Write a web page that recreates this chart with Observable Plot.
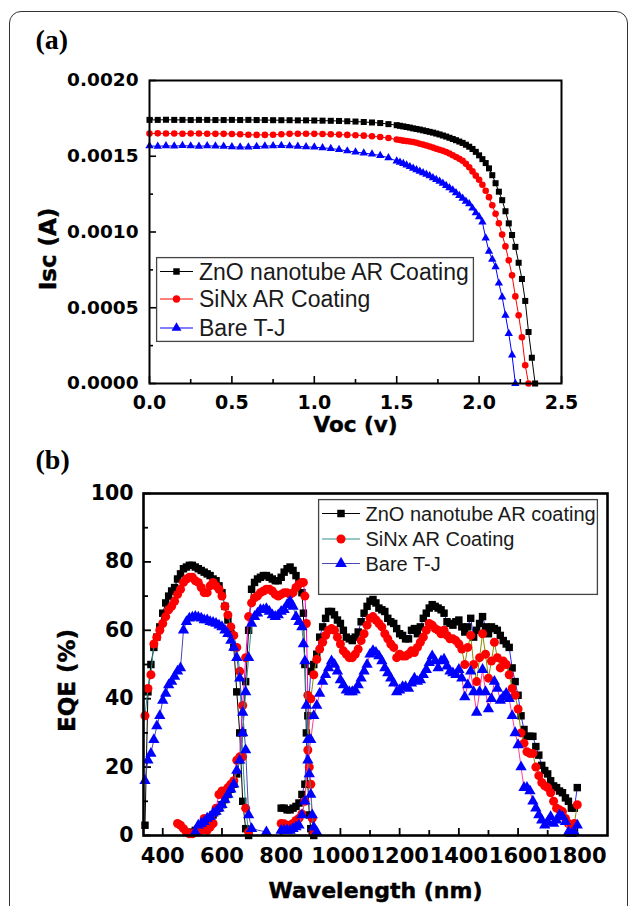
<!DOCTYPE html>
<html><head><meta charset="utf-8">
<script src="https://cdn.jsdelivr.net/npm/d3@7"></script>
<script src="https://cdn.jsdelivr.net/npm/@observablehq/plot@0.6"></script>
<style>
html,body{margin:0;padding:0;background:#fff;}
body{width:629px;height:906px;position:relative;overflow:hidden;font-family:"Liberation Sans",Arial,sans-serif;}
#frame{position:absolute;left:9px;top:11px;width:619px;height:1000px;box-sizing:border-box;border:1.5px solid #333;border-radius:12px;}
.abs{position:absolute;left:0;}
</style>
</head><body>
<div id="frame"></div>
<div id="pa" class="abs" style="top:0px"></div>
<div id="pb" class="abs" style="top:440px"></div>
<script>
// ===================== Panel (a): I-V data =====================
const vocGrid = [0,0.05,0.1,0.15,0.2,0.25,0.3,0.35,0.4,0.45,0.5,0.55,0.6,0.65,0.7,0.75,0.8,0.85,0.9,0.95,1.0,1.05,1.1,1.15,1.2,1.25,1.3,1.35,1.4,1.45,1.5,
 1.52,1.54,1.56,1.58,1.6,1.62,1.64,1.66,1.68,1.7,1.72,1.74,1.76,1.78,1.8,1.82,1.84,1.86,1.88,1.9,1.92,1.94,1.96,1.98,2.0,2.02,2.04,2.06,2.08,2.1,2.12,2.14,2.16,2.18,2.2,2.22,2.24,2.26,2.28,2.3,2.32,2.34];
const iscZnO = [0.001740,0.001740,0.001741,0.001740,0.001740,0.001739,0.001740,0.001740,0.001739,0.001739,0.001740,0.001739,0.001740,0.001739,0.001739,0.001738,0.001738,0.001738,0.001737,0.001737,0.001736,0.001735,0.001734,0.001733,0.001731,0.001729,0.001726,0.001723,0.001719,0.001712,0.001705,
 0.001701,0.001697,0.001693,0.001689,0.001684,0.001680,0.001676,0.001671,0.001666,0.001661,0.001656,0.001650,0.001644,0.001637,0.001630,0.001622,0.001614,0.001606,0.001597,0.001588,0.001576,0.001563,0.001548,0.001529,0.001506,0.001481,0.001455,0.001420,0.001375,0.001322,0.001266,0.001210,0.001137,0.001057,0.000980,0.000902,0.000797,0.000690,0.000545,0.000340,0.000170,0.000000];
const iscSiNx = [0.001650,0.001651,0.001650,0.001650,0.001649,0.001650,0.001650,0.001649,0.001648,0.001648,0.001647,0.001645,0.001642,0.001641,0.001641,0.001642,0.001645,0.001648,0.001649,0.001649,0.001648,0.001647,0.001645,0.001643,0.001641,0.001639,0.001636,0.001632,0.001627,0.001620,0.001611,
 0.001607,0.001603,0.001600,0.001597,0.001594,0.001589,0.001583,0.001577,0.001571,0.001564,0.001557,0.001550,0.001543,0.001536,0.001528,0.001518,0.001507,0.001495,0.001483,0.001470,0.001450,0.001427,0.001400,0.001372,0.001345,0.001312,0.001272,0.001230,0.001177,0.001120,0.001058,0.000983,0.000905,0.000813,0.000714,0.000575,0.000450,0.000305,0.000120,0.000000];
const iscBare = [0.001568,0.001566,0.001569,0.001567,0.001570,0.001568,0.001566,0.001569,0.001567,0.001565,0.001562,0.001560,0.001561,0.001564,0.001567,0.001569,0.001570,0.001568,0.001565,0.001562,0.001560,0.001556,0.001551,0.001544,0.001535,0.001528,0.001521,0.001514,0.001505,0.001490,0.001468,
 0.001460,0.001451,0.001441,0.001431,0.001420,0.001410,0.001400,0.001390,0.001380,0.001370,0.001358,0.001346,0.001334,0.001321,0.001306,0.001291,0.001276,0.001259,0.001241,0.001222,0.001203,0.001186,0.001157,0.001127,0.001100,0.001065,0.000960,0.000872,0.000820,0.000770,0.000662,0.000570,0.000450,0.000330,0.000187,0.000000];
const ivLabels = ["ZnO nanotube AR Coating", "SiNx AR Coating", "Bare T-J"];
const ivXTicks = [0, 0.5, 1.0, 1.5, 2.0, 2.5];
const ivXMinor = [0.25, 0.75, 1.25, 1.75, 2.25];
const ivYTicks = [0, 0.0005, 0.0010, 0.0015, 0.0020];
const ivYMinor = [0.00025, 0.00075, 0.00125, 0.00175];

// ===================== Panel (b): EQE data =====================
const wlTop = [340,350,360,370,380,390,400,410,420,430,440,450,460,470,480,490,500,510,520,530,540,550,560,570,580,590,600,610,620,630,640,650,660,670,680,690,700,750];
const eqeZnOTop  = [3,42,50,55,58,61,65,68,70,71.5,72.5,75,76.5,78,78.5,79,79,78.5,78,77.5,77,76.5,76,75,74.5,73,71,67,63,59,55,42,30,10,2,0,null,null];
const eqeSiNxTop = [35,43,47,56,58,60,62,64,66,67,68.5,70.5,72,74,75,75.5,75.5,74.5,74,72.5,71,71,73,74,73,72,70,67,64.5,61,58.5,55,48,23,8,1,null,null];
const eqeBareTop = [16,22,24,28,32,35,39.5,41.5,44,45,46.5,48,49,60,62.5,63.5,63.8,64,63.8,63.5,63,63,62.5,62.3,62,61.5,61,60,59,57,55,52,46,36,25,6,2,1];

const wlMid = [450,460,470,480,490,500,510,520,530,540,550,560,570,580,590,600,610,620,630,640,650,660,670,680,690,700,710,720,730,740,750,760,770,780,790,800,810,820,830,840,850,860,870,875,880,885,890,895,900,905,910,920];
const eqeZnOMid  = [null,null,null,null,null,1,1.5,2,2.5,3,4,5,6,7,8,9,10.5,12,13.5,15,18,22,30,45,60,72,74,75,75.5,76,76,75.5,75,74.5,74.5,75.5,77,78,78.5,77.5,76,74,71,65,50,30,15,6,2,1,0,null];
const eqeSiNxMid = [3.5,3,2,1,0.5,0.5,1,1,1.5,5,1.5,2.5,3.5,8,12,13,13,14,15,16,22,23,38,52,64,68,69.5,70,71,71.5,72,72,71.5,70.5,70,70.5,71,71,70.5,71,72.5,73.5,74,74,70,62,41,20,15,5,1,null];
const eqeBareMid = [null,null,null,null,null,null,1,3,3.5,4,5,5.5,6.5,7,8,9,10.5,12,13.5,15,19,22,30,42,52,62,64,65,66,66,66.3,65.5,64.5,64,64.5,65.5,66,67.5,68.5,67,64,62.5,61,56,51,38,28,18,12,6,2.4,1];

const wlBot = [800,810,820,830,840,850,860,870,880,890,900,910,920,930,940,950,960,970,980,990,
 1000,1010,1020,1030,1040,1050,1060,1070,1080,1090,1100,1110,1120,1130,1140,1150,1160,1170,1180,1190,
 1200,1210,1220,1230,1240,1250,1260,1270,1280,1290,1300,1310,1320,1330,1340,1350,1360,1370,1380,1390,
 1400,1410,1420,1430,1440,1450,1460,1470,1480,1490,1500,1510,1520,1530,1540,1550,1560,1570,1580,1590,
 1600,1610,1620,1630,1640,1650,1660,1670,1680,1690,1700,1710,1720,1730,1740,1750,1760,1770,1780,1790,1800];
const eqeZnOBot = [8,8,7.5,7.5,8,8.5,9.5,12,15,35, 48,50,53,58,61,63.5,65.5,65.5,64.5,63,
 62,60,58,57.5,57,58,59.5,62.5,65,67, 68.5,69,68,66.5,66,65.5,63.5,62.5,62,60.5,
 59,58.5,57.5,57.5,60,60.5,59,61,63.5,65, 66.5,67.5,67,66.5,66,65,62.5,62,61.5,62.5,
 63,61,59.5,61,63.5,58,60,62,64,61, 59,61,60.5,60,58.5,57,56,55,49,45,
 41,35,31,29,29,29,26,23.5,20.5,19, 18,16,14.5,14,13,12.5,11,10,8,8, 14];
const eqeSiNxBot = [3.5,3.4,3,3,3.5,4.4,5,6.3,10,25, 40,47,51.5,54.5,56.5,58.5,60,60.5,60,58,
 56,54,53,52,52,53,54.5,57,59,61.5, 63.5,64,63,62,61,59,57.5,56,55,52,
 53,52.5,52.5,53,54,53.5,55,56.5,58,60, 62,61.5,60.5,60,59,60,58.5,57.5,57.5,57,
 56,54.5,50,55,58.5,50,45,52,59,53, 46,51,56.5,52,49,51,50,47,43,41,
 37,30,27,24.5,24,24,20,17.5,15.5,14.5, 14,12.5,10,8,7.5,7,5,3.5,3,3.5, 9];
const eqeBareBot = [1.5,1.5,1.5,1.5,2,2.5,3,6,10,22, 28,35,38,41.5,45,47,49,51,50,48,
 45.5,44,42.5,42,42,42.5,44,46,48,50, 53,54,53.5,52.5,51,49,47.5,46,44.5,42,
 42.5,43.5,43.5,43,44.5,46,45,45.5,47,48.5, 50.5,52.5,51,49,51,51.5,49.5,48,47.5,47,
 48.5,46,40.5,44,48,42,36,42,48.5,42, 37,40,45,43,39.5,40.5,41.5,40,35,30,
 26.5,20,14,14,13,10,8,6,4.5,3, 4,5.5,3.5,4.5,6,5.5,4,1,0.5,1, 3];
const eqeLabels = ["ZnO nanotube AR coating", "SiNx AR Coating", "Bare T-J"];
const eqeXTicks = [400, 600, 800, 1000, 1200, 1400, 1600, 1800];
const eqeXMinor = [500, 700, 900, 1100, 1300, 1500, 1700];
const eqeYTicks = [0, 20, 40, 60, 80, 100];
const eqeYMinor = [10, 30, 50, 70, 90];

// ===================== build tables =====================
const toIV = (arr) => arr.map((i, k) => ({v: vocGrid[k], i}));
const ivSeries = [
  {rows: toIV(iscZnO), symbol: "square", fill: "#000", line: "#000", r: 3.4},
  {rows: toIV(iscSiNx), symbol: "circle", fill: "#ff0000", line: "#ff0000", r: 3.3},
  {rows: toIV(iscBare), symbol: "triangle", fill: "#0000ff", line: "#0000ff", r: 3.1}
];
const toEQE = (wl, arr) => arr.map((e, k) => ({wl: wl[k], e})).filter(d => d.e != null);
const eqeSeries = [
  {symbol: "square", fill: "#000", r: 4.2, segs: [
    {rows: toEQE(wlTop, eqeZnOTop), line: "#000"},
    {rows: toEQE(wlMid, eqeZnOMid), line: "#000"},
    {rows: toEQE(wlBot, eqeZnOBot), line: "#2a2aff"}]},
  {symbol: "circle", fill: "#ff0000", r: 4.5, segs: [
    {rows: toEQE(wlTop, eqeSiNxTop), line: "#2f9090"},
    {rows: toEQE(wlMid, eqeSiNxMid), line: "#ff00cc"},
    {rows: toEQE(wlBot, eqeSiNxBot), line: "#8c8c00"}]},
  {symbol: "triangle", fill: "#0000ff", r: 4.2, segs: [
    {rows: toEQE(wlTop, eqeBareTop), line: "#4848b0"},
    {rows: toEQE(wlMid, eqeBareMid), line: "#3a8f8f"},
    {rows: toEQE(wlBot, eqeBareBot), line: "#ff3c9a"}]}
];

const baseStyle = {background: "transparent", overflow: "visible", fontFamily: "'DejaVu Sans', sans-serif", fontWeight: "bold", color: "#000"};
const serif = "'Liberation Serif', 'Times New Roman', serif";
const heavy = {fontWeight: "bold", fill: "#000", stroke: "#000", strokeWidth: 0.45};

// ===================== Panel (a) =====================
{
  const W = 629, H = 440, mL = 149, mR = 68, mT = 80, mB = 57;
  const iW = W - mL - mR, iH = H - mT - mB;
  const marks = [
    Plot.ruleX(ivXTicks, {x: d => d, insetTop: iH - 7, strokeWidth: 1.6}),
    Plot.ruleX(ivXMinor, {x: d => d, insetTop: iH - 4, strokeWidth: 1.6}),
    Plot.ruleY(ivYTicks, {y: d => d, insetRight: iW - 7, strokeWidth: 1.6}),
    Plot.ruleY(ivYMinor, {y: d => d, insetRight: iW - 4, strokeWidth: 1.6})
  ];
  for (const s of ivSeries) {
    marks.push(Plot.line(s.rows, {x: "v", y: "i", stroke: s.line, strokeWidth: 1}));
    marks.push(Plot.dot(s.rows, {x: "v", y: "i", symbol: s.symbol, fill: s.fill, r: s.r}));
  }
  marks.push(
    Plot.frame({strokeWidth: 2}),
    Plot.axisX({ticks: ivXTicks, tickSize: 0, tickPadding: 12, tickFormat: d3.format(".1f"), fontSize: 19, ...heavy, label: null}),
    Plot.axisY({ticks: ivYTicks, tickSize: 0, tickPadding: 11, tickFormat: d3.format(".4f"), fontSize: 18.5, ...heavy, label: null}),
    Plot.text(["Isc (A)"], {frameAnchor: "left", dx: -101, dy: 17, rotate: -90, textAnchor: "middle", lineAnchor: "middle", fontSize: 23, ...heavy}),
    Plot.text(["Voc (v)"], {frameAnchor: "bottom", dy: 42, textAnchor: "middle", lineAnchor: "middle", fontSize: 21.5, ...heavy}),
    Plot.text(["(a)"], {frameAnchor: "top-left", dx: 35 - mL, dy: 40 - mT, textAnchor: "start", lineAnchor: "middle", fontSize: 28, fontWeight: "bold", fill: "#000", fontFamily: serif})
  );
  const chart = Plot.plot({
    width: W, height: H, marginLeft: mL, marginRight: mR, marginTop: mT, marginBottom: mB,
    x: {domain: [0, 2.5]}, y: {domain: [0, 0.002]},
    style: baseStyle, marks
  });
  document.getElementById("pa").appendChild(chart);
}

// ===================== Panel (b) =====================
{
  const W = 629, H = 466, mL = 143, mR = 22, mT = 53, mB = 71;
  const iW = W - mL - mR, iH = H - mT - mB;
  const marks = [
    Plot.ruleX(eqeXTicks, {x: d => d, insetTop: iH - 7, strokeWidth: 1.8}),
    Plot.ruleX(eqeXMinor, {x: d => d, insetTop: iH - 5, strokeWidth: 1.8}),
    Plot.ruleY(eqeYTicks, {y: d => d, insetRight: iW - 8, strokeWidth: 1.8}),
    Plot.ruleY(eqeYMinor, {y: d => d, insetRight: iW - 5, strokeWidth: 1.8})
  ];
  for (const s of eqeSeries) {
    for (const g of s.segs) marks.push(Plot.line(g.rows, {x: "wl", y: "e", stroke: g.line, strokeWidth: 1}));
    for (const g of s.segs) marks.push(Plot.dot(g.rows, {x: "wl", y: "e", symbol: s.symbol, fill: s.fill, r: s.r}));
  }
  marks.push(
    Plot.frame({strokeWidth: 2.6}),
    Plot.axisX({ticks: eqeXTicks, tickSize: 0, tickPadding: 13, tickFormat: d => String(d), fontSize: 21, ...heavy, label: null}),
    Plot.axisY({ticks: eqeYTicks, tickSize: 0, tickPadding: 10, tickFormat: d => String(d), fontSize: 20.5, ...heavy, label: null}),
    Plot.text(["EQE (%)"], {frameAnchor: "left", dx: -76, dy: 16, rotate: -90, textAnchor: "middle", lineAnchor: "middle", fontSize: 23, ...heavy}),
    Plot.text(["Wavelength (nm)"], {frameAnchor: "bottom", dy: 55, textAnchor: "middle", lineAnchor: "middle", fontSize: 22, ...heavy}),
    Plot.text(["(b)"], {frameAnchor: "top-left", dx: 35 - mL, dy: 20 - mT, textAnchor: "start", lineAnchor: "middle", fontSize: 28, fontWeight: "bold", fill: "#000", fontFamily: serif})
  );
  const chart = Plot.plot({
    width: W, height: H, marginLeft: mL, marginRight: mR, marginTop: mT, marginBottom: mB,
    x: {domain: [335, 1902]}, y: {domain: [0, 100]},
    style: baseStyle, marks
  });
  document.getElementById("pb").appendChild(chart);
}

// ===================== legends =====================
function makeLegend({left, top, width, height, rows, fontSize, lineX0, lineX1, textX}) {
  const svg = d3.create("svg").attr("width", width).attr("height", height)
    .style("position", "absolute").style("left", left + "px").style("top", top + "px").style("overflow", "visible");
  svg.append("rect").attr("x", 0.6).attr("y", 0.6).attr("width", width - 1.2).attr("height", height - 1.2)
    .attr("fill", "white").attr("stroke", "#444").attr("stroke-width", 1.3);
  const symMap = {square: d3.symbolSquare, circle: d3.symbolCircle, triangle: d3.symbolTriangle};
  rows.forEach(r => {
    svg.append("line").attr("x1", lineX0).attr("x2", lineX1).attr("y1", r.y).attr("y2", r.y).attr("stroke", r.line).attr("stroke-width", 1.1);
    svg.append("path").attr("transform", `translate(${(lineX0 + lineX1) / 2},${r.y})`)
      .attr("d", d3.symbol(symMap[r.symbol], r.size)()).attr("fill", r.fill);
    svg.append("text").attr("x", textX).attr("y", r.y).attr("dy", "0.36em")
      .attr("font-family", "'Liberation Sans', Arial, sans-serif").attr("font-size", fontSize).attr("fill", "#1a1a1a").text(r.label);
  });
  document.body.appendChild(svg.node());
}
makeLegend({left: 156, top: 257, width: 318, height: 85, fontSize: 23, lineX0: 4, lineX1: 37, textX: 43,
  rows: [
    {y: 14.5, label: ivLabels[0], symbol: "square", fill: "#000", line: "#000", size: 42},
    {y: 42, label: ivLabels[1], symbol: "circle", fill: "#ff0000", line: "#ff0000", size: 42},
    {y: 71, label: ivLabels[2], symbol: "triangle", fill: "#0000ff", line: "#0000ff", size: 42}
  ]});
makeLegend({left: 318, top: 499, width: 280, height: 96, fontSize: 20, lineX0: 4, lineX1: 42, textX: 47.5,
  rows: [
    {y: 14.5, label: eqeLabels[0], symbol: "square", fill: "#000", line: "#000", size: 56},
    {y: 40, label: eqeLabels[1], symbol: "circle", fill: "#ff0000", line: "#2f9090", size: 64},
    {y: 64.5, label: eqeLabels[2], symbol: "triangle", fill: "#0000ff", line: "#4848b0", size: 60}
  ]});
</script>
</body></html>
